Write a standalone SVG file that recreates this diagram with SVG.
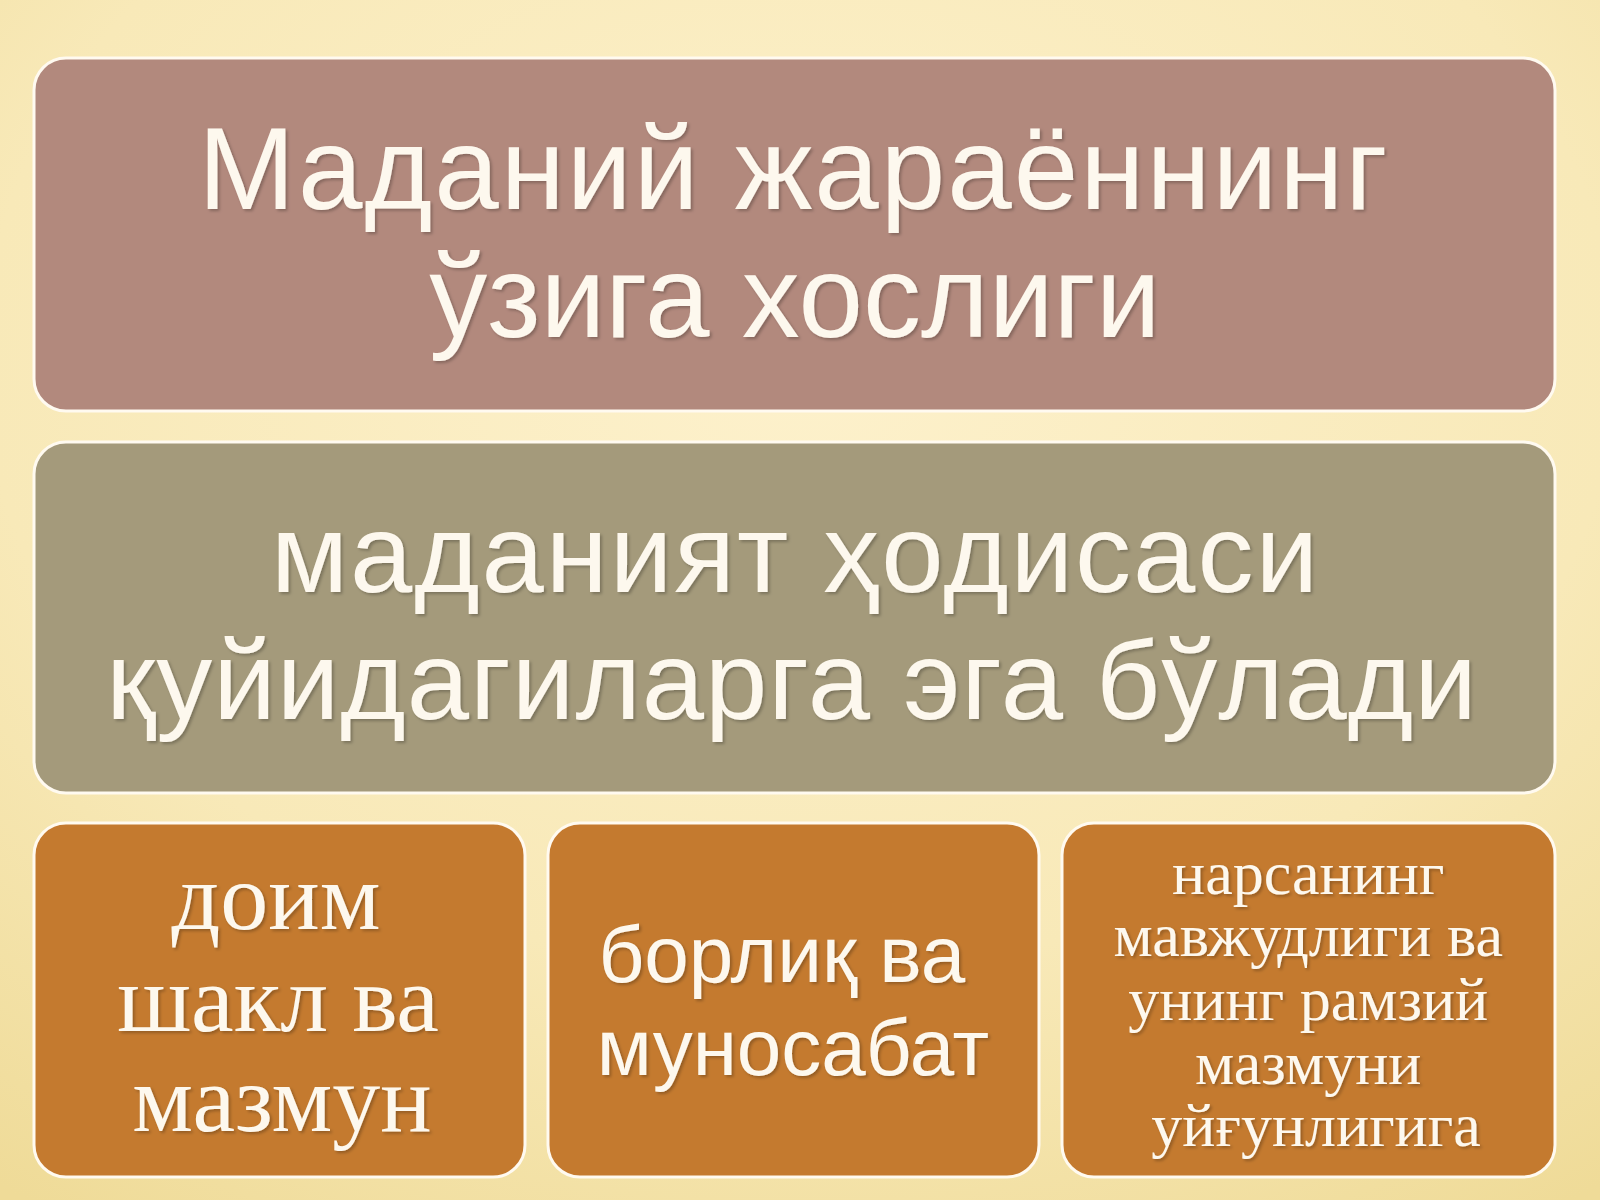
<svg xmlns="http://www.w3.org/2000/svg" width="1600" height="1200" viewBox="0 0 1600 1200">
  <defs>
    <radialGradient id="bg" cx="0.5" cy="0.3" r="0.85">
      <stop offset="0" stop-color="#fdf1cc"/>
      <stop offset="0.6" stop-color="#f8e9b8"/>
      <stop offset="1" stop-color="#efdb98"/>
    </radialGradient>
    <filter id="sh" x="-5%" y="-5%" width="110%" height="115%">
      <feDropShadow dx="2" dy="2" stdDeviation="1.5" flood-color="#000" flood-opacity="0.25"/>
    </filter>
    <style>
      .box { stroke: #fffaf0; stroke-width: 3; }
      .top { fill: #b2897d; }
      .mid { fill: #a49a7b; }
      .bot { fill: #c47a2f; }
      .sans { font-family: "Liberation Sans", "Open Sans", sans-serif; fill: #fdf8ee; text-anchor: middle; }
      .serif { font-family: "Liberation Serif", "DejaVu Serif", serif; fill: #fdf8ee; text-anchor: middle; }
    </style>
  </defs>
  <rect x="0" y="0" width="1600" height="1200" fill="url(#bg)"/>

  <g id="node-title">
    <rect class="box top" x="34" y="58" width="1521" height="353" rx="32"/>
    <text class="sans" font-size="116" filter="url(#sh)">
      <tspan x="810" y="209" letter-spacing="2">Маданий жараённинг</tspan>
      <tspan x="795" y="337">ўзига хослиги</tspan>
    </text>
  </g>

  <g id="node-phenomenon">
    <rect class="box mid" x="34" y="442" width="1521" height="351" rx="32"/>
    <text class="sans" font-size="112" filter="url(#sh)">
      <tspan x="811" y="592" letter-spacing="2">маданият ҳодисаси</tspan>
      <tspan x="792" y="719" letter-spacing="1">қуйидагиларга эга бўлади</tspan>
    </text>
  </g>

  <g id="node-form">
    <rect class="box bot" x="34" y="823" width="491" height="354" rx="32"/>
    <text class="serif" font-size="96" filter="url(#sh)">
      <tspan x="288" y="929">доим</tspan>
      <tspan x="290" y="1031">шакл ва</tspan>
      <tspan x="282" y="1131">мазмун</tspan>
    </text>
  </g>

  <g id="node-being">
    <rect class="box bot" x="548" y="823" width="491" height="354" rx="32"/>
    <text class="sans" font-size="80" filter="url(#sh)">
      <tspan x="793" y="982">борлиқ ва</tspan>
      <tspan x="793" y="1075">муносабат</tspan>
    </text>
  </g>

  <g id="node-symbol">
    <rect class="box bot" x="1062" y="823" width="493" height="354" rx="32"/>
    <text class="serif" font-size="62" filter="url(#sh)">
      <tspan x="1316" y="894">нарсанинг</tspan>
      <tspan x="1316" y="956">мавжудлиги ва</tspan>
      <tspan x="1316" y="1020">унинг рамзий</tspan>
      <tspan x="1316" y="1084">мазмуни</tspan>
      <tspan x="1316" y="1146">уйғунлигига</tspan>
    </text>
  </g>

  <g id="connectors"></g>
</svg>
